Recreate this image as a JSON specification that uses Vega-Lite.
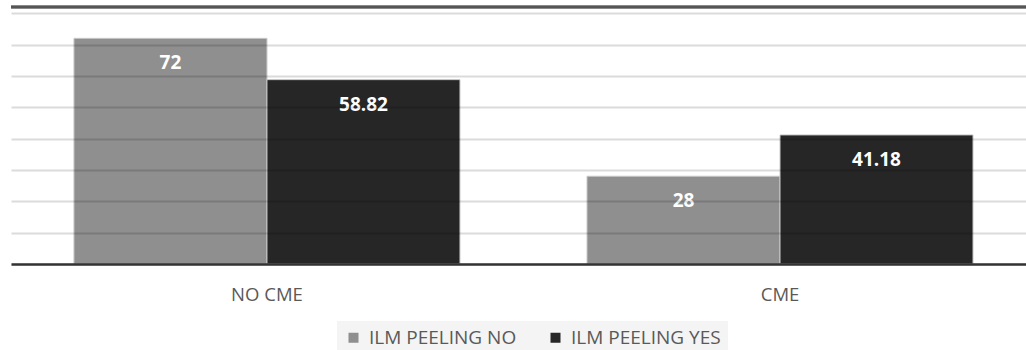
{
  "$schema": "https://vega.github.io/schema/vega-lite/v6.json",
  "autosize": "none",
  "width": 1015,
  "height": 257,
  "padding": {"left": 11, "top": 7, "right": 0, "bottom": 86},
  "background": "white",
  "config": {"view": {"stroke": null}, "font": "Open Sans"},
  "data": {
    "values": [
      {"group": "NO CME", "series": "ILM PEELING NO", "value": 72},
      {"group": "NO CME", "series": "ILM PEELING YES", "value": 58.82},
      {"group": "CME", "series": "ILM PEELING NO", "value": 28},
      {"group": "CME", "series": "ILM PEELING YES", "value": 41.18}
    ]
  },
  "encoding": {
    "x": {
      "field": "group", "type": "nominal", "sort": ["NO CME", "CME"],
      "scale": {"paddingInner": 0.2476, "paddingOuter": 0.113, "align": 0.543},
      "axis": {"title": null, "labelAngle": 0, "ticks": false, "domainColor": "#333333", "domainWidth": 2.5, "labelFontSize": 18.5, "labelColor": "#595959", "labelPadding": 21, "labelBaseline": "top", "zindex": 2}
    },
    "xOffset": {"field": "series", "type": "nominal", "sort": ["ILM PEELING NO", "ILM PEELING YES"], "scale": {"paddingInner": 0}},
    "y": {
      "field": "value", "type": "quantitative",
      "scale": {"domain": [0, 82], "nice": false},
      "axis": {"title": null, "labels": false, "ticks": false, "domain": false, "values": [0, 10, 20, 30, 40, 50, 60, 70, 80], "gridColor": "#000000", "gridOpacity": 0.14, "gridWidth": 2, "zindex": 1}
    }
  },
  "layer": [
    {
      "mark": {"type": "bar", "stroke": "#c8c8c8", "strokeWidth": 1},
      "encoding": {
        "color": {
          "field": "series", "type": "nominal",
          "scale": {"domain": ["ILM PEELING NO", "ILM PEELING YES"], "range": ["#8f8f8f", "#262626"]},
          "legend": {
            "title": null, "orient": "none", "direction": "horizontal",
            "legendX": 326, "legendY": 314,
            "fillColor": "#f4f4f4", "padding": 7,
            "symbolType": "square", "symbolSize": 100, "symbolStrokeWidth": 0,
            "labelFontSize": 19, "labelColor": "#595959", "labelOffset": 6,
            "columnPadding": 29
          }
        }
      }
    },
    {
      "mark": {"type": "text", "color": "white", "fontWeight": "bold", "fontSize": 19, "baseline": "middle", "dy": 25},
      "encoding": {"text": {"field": "value", "type": "quantitative"}}
    },
    {
      "mark": {"type": "rule", "color": "#555555", "strokeWidth": 2.5},
      "encoding": {"y": {"datum": 82}, "x": null, "xOffset": null}
    }
  ]
}
